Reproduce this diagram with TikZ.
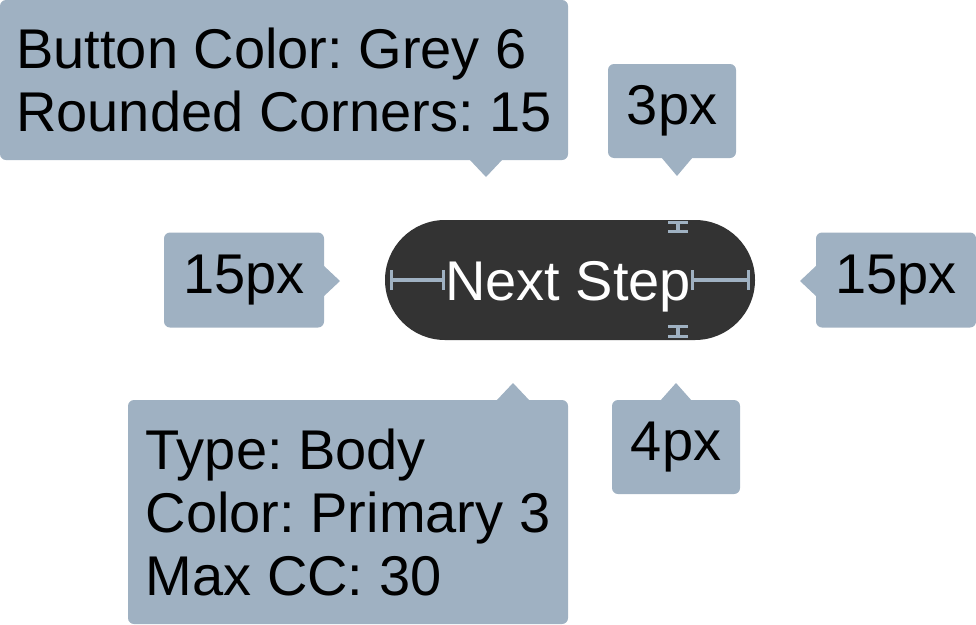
\documentclass[tikz,border=0pt]{standalone}
\usepackage{fontspec}
\setmainfont{Liberation Sans}
\usetikzlibrary{arrows.meta}
\definecolor{noteblue}{HTML}{9FB1C2}
\definecolor{btngrey}{HTML}{333333}
\frenchspacing
\begin{document}
\begin{tikzpicture}[x=1pt,y=-1pt]
    \tikzstyle{note}=[fill=noteblue, rounded corners=6pt, inner sep=0pt, align=left, text=black, font=\fontsize{56}{63}\selectfont]
    \tikzstyle{pill}=[fill=btngrey, rounded corners=60pt, inner sep=0pt, minimum width=370pt, minimum height=120pt]
    \tikzstyle{gauge}=[draw=noteblue, line width=3.5pt, {Bar[width=20pt,line width=3pt]}-{Bar[width=20pt,line width=3pt]}]
    \useasboundingbox (0,0) rectangle (976,624);
    \node [note, minimum width=568pt, minimum height=160pt] (style) at (284,80) {Button Color: Grey 6\\Rounded Corners: 15};
    \fill [noteblue] (469,159) -- (503,159) -- (486,177) -- cycle;
    \node [note, minimum width=128pt, minimum height=94pt] (padtop) at (672,111) {3px};
    \fill [noteblue] (661,157) -- (693,157) -- (677,176) -- cycle;
    \node [note, minimum width=160pt, minimum height=95pt] (padleft) at (244,280) {15px};
    \fill [noteblue] (323,265) -- (323,297) -- (340,281) -- cycle;
    \node [note, minimum width=160pt, minimum height=95pt] (padright) at (896,280) {15px};
    \fill [noteblue] (817,265) -- (817,297) -- (800,281) -- cycle;
    \node [note, minimum width=440pt, minimum height=224pt] (type) at (348,512) {Type: Body\\Color: Primary 3\\Max CC: 30};
    \fill [noteblue] (496,401) -- (530,401) -- (513,383) -- cycle;
    \node [note, minimum width=128pt, minimum height=94pt] (padbottom) at (676,447) {4px};
    \fill [noteblue] (660,401) -- (692,401) -- (676,383) -- cycle;
    \node [pill] (btn) at (570,280) {};
    \node [inner sep=0pt, anchor=base, text=white, font=\fontsize{56}{63}\selectfont] (caption) at (568,300) {Next Step};
    \draw [gauge] ([xshift=5pt]btn.west) -- (caption.west |- btn.west);
    \draw [gauge] (caption.east |- btn.east) -- ([xshift=-5pt]btn.east);
    \coordinate (gtop) at (678,221);
    \coordinate (gbottom) at (678,338);
    \draw [gauge] (gtop) -- ++(0,12);
    \draw [gauge] (gbottom) -- ++(0,-13);
\end{tikzpicture}
\end{document}
